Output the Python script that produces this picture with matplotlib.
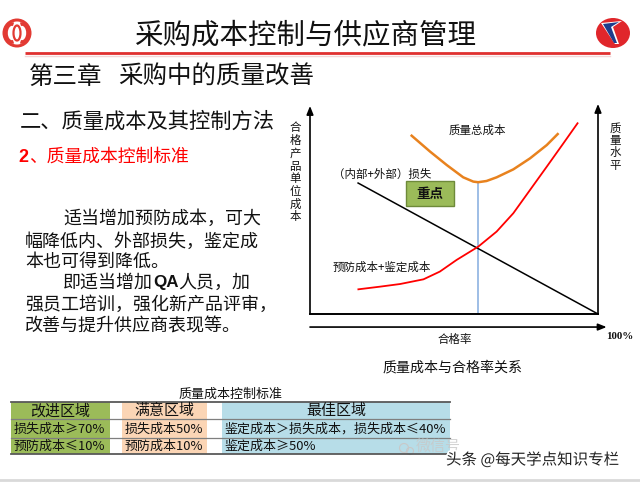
import matplotlib
matplotlib.use("Agg")
import matplotlib.pyplot as plt
from matplotlib.patches import Rectangle, Circle, Ellipse, Polygon, Arc
import matplotlib.patheffects as pe

plt.rcParams['font.family'] = ['Noto Sans CJK SC', 'DejaVu Sans']

# ---------------- data ----------------
title = "采购成本控制与供应商管理"
chapter_no = "第三章"
chapter = "采购中的质量改善"
section = "二、质量成本及其控制方法"
subsection = "质量成本控制标准"
para_lines = ["适当增加预防成本，可大", "幅降低内、外部损失，鉴定成", "本也可得到降低。",
              None, "强员工培训，强化新产品评审，", "改善与提升供应商表现等。"]

# chart curves (x = 合格率 scale 0-100, y = 单位成本 scale 0-100)
loss_x = [16.7, 100.0]
loss_y = [64.2, 0.0]
prev_x = [16.8, 24.3, 31.3, 39.4, 45.1, 50.9, 58.4, 64.8, 70.6, 76.4, 82.2, 88.0, 92.9]
prev_y = [12.1, 13.4, 14.7, 17.0, 20.8, 26.5, 33.0, 40.4, 49.4, 60.8, 72.2, 83.7, 93.5]
total_x = [35.3, 41.7, 47.5, 53.2, 56.7, 58.4, 61.3, 64.8, 70.6, 76.4, 82.2, 86.0]
total_y = [87.4, 79.6, 73.0, 67.0, 64.9, 64.6, 65.2, 67.0, 70.9, 76.3, 82.8, 88.2]
optimum_x = 58.4
optimum_y = 64.6

chart_caption = "质量成本与合格率关系"
table_title = "质量成本控制标准"
zones = ["改进区域", "满意区域", "最佳区域"]
loss_std = ["损失成本≥70%", "损失成本50%", "鉴定成本＞损失成本，损失成本≤40%"]
prev_std = ["预防成本≤10%", "预防成本10%", "鉴定成本≥50%"]
zone_colors = ["#9BBB59", "#FBD5B5", "#B7DDE8"]

# ---------------- figure ----------------
W, H = 640, 482
fig = plt.figure(figsize=(W / 100, H / 100), dpi=100)
fig.patch.set_facecolor("white")
ov = fig.add_axes([0, 0, 1, 1])
ov.set_xlim(0, W)
ov.set_ylim(H, 0)
ov.axis("off")

def pt(px):
    return px * 0.72

# header
ov.plot([25, 610], [53, 53], color="#E0302F", lw=2.0, solid_capstyle="butt")
ov.plot([25, 610], [56, 56], color="#F2D6D6", lw=1.0)
ov.text(306, 35, title, fontsize=pt(28.5), ha="center", va="center", color="#111111")
ov.text(29, 77, chapter_no, fontsize=pt(24.5), ha="left", va="center", color="#111111")
ov.text(118, 77, chapter, fontsize=pt(24.5), ha="left", va="center", color="#111111")

# left logo (red ring with swirls)
ov.add_patch(Circle((17, 33), 14.5, facecolor="#E23A33", edgecolor="none"))
ov.add_patch(Circle((17, 33), 11.5, facecolor="white", edgecolor="none"))
ov.add_patch(Arc((12, 33), 12, 18, theta1=80, theta2=280, color="#E23A33", lw=2.6))
ov.add_patch(Arc((22, 33), 12, 18, theta1=-100, theta2=100, color="#E23A33", lw=2.6))
ov.add_patch(Arc((17, 33), 7, 15, theta1=0, theta2=360, color="#E23A33", lw=1.6))

# right logo (red ellipse with blue swoosh)
ov.add_patch(Ellipse((613, 33), 34, 30, facecolor="#E0262B", edgecolor="none"))
ov.add_patch(Polygon([[601, 23], [622, 21], [613, 27], [619, 44], [615, 44]],
                     closed=True, facecolor="white", edgecolor="none"))
ov.add_patch(Polygon([[603, 24], [619, 22], [611, 27], [617, 43], [614, 43]],
                     closed=True, facecolor="#1F3C8C", edgecolor="none"))

# section texts
ov.text(20, 122, section, fontsize=pt(21.3), ha="left", va="center", color="#111111")
ov.text(18, 157, "2", fontsize=pt(18), ha="left", va="center", color="#FF0000",
        fontweight="bold", family=["Liberation Sans", "DejaVu Sans"])
ov.text(29, 157, "、" + subsection, fontsize=pt(17.8), ha="left", va="center", color="#FF0000")

para_y = [219, 242, 262, 283, 305, 326]
para_x = [63, 25, 25, 63, 25, 25]
for line, x, y in zip(para_lines, para_x, para_y):
    if line is not None:
        ov.text(x, y, line, fontsize=pt(18), ha="left", va="center", color="#111111")
ov.text(63, para_y[3], "即适当增加", fontsize=pt(18), ha="left", va="center", color="#111111")
ov.text(153, para_y[3], "QA", fontsize=pt(17), ha="left", va="center", color="#111111",
        fontweight="bold", family=["Liberation Sans", "DejaVu Sans"])
ov.text(178, para_y[3], "人员，加", fontsize=pt(18), ha="left", va="center", color="#111111")

# ---------------- chart ----------------
x0, x1, y0, y1 = 310, 598, 314, 110
ax = fig.add_axes([x0 / W, (H - y0) / H, (x1 - x0) / W, (y0 - y1) / H])
ax.set_xlim(0, 100)
ax.set_ylim(0, 100)
ax.axis("off")
ax.patch.set_alpha(0)

ax.plot([optimum_x, optimum_x], [0, optimum_y], color="#8DB3E2", lw=1.2, clip_on=False)
ax.plot(loss_x, loss_y, color="black", lw=1.1, clip_on=False)
ax.plot(prev_x, prev_y, color="#FF0000", lw=1.3, clip_on=False)
ax.plot(total_x, total_y, color="#E8821E", lw=1.8, clip_on=False)

arrow = dict(arrowstyle="-|>,head_length=0.5,head_width=0.2", color="black", lw=1.2,
             shrinkA=0, shrinkB=0)
ax.plot([0, 100], [0, 0], color="black", lw=1.4, clip_on=False)
ax.annotate("", xy=(0, 102), xytext=(0, 0), arrowprops=arrow, annotation_clip=False)
ax.annotate("", xy=(100, 103), xytext=(100, 0), arrowprops=arrow, annotation_clip=False)
ax.annotate("", xy=(103, -6.4), xytext=(0, -6.4), arrowprops=arrow, annotation_clip=False)

lbl = dict(fontsize=pt(11.5), color="#111111", va="center")
ax.text(58.0, 90.2, "质量总成本", ha="center", **lbl)
ax.text(25.2, 68.6, "（内部+外部）损失", ha="center", **lbl)
ax.text(24.9, 22.7, "预防成本+鉴定成本", ha="center", **lbl)
ax.text(50.2, -12.4, "合格率", ha="center", **lbl)
ax.text(107.6, -10.8, "100%", ha="center", fontsize=pt(11), color="#111111", va="center",
        family=["Liberation Serif", "DejaVu Serif"], fontweight="bold")

ax.add_patch(Rectangle((33.3, 52.9), 16.7, 12.3, facecolor="#9BBB59", edgecolor="#6E8A3A",
                       lw=1.0, clip_on=False))
ax.text(41.65, 59.05, "重点", ha="center", va="center", fontsize=pt(13.5),
        color="#111111", fontweight="bold")

# vertical axis titles (stacked characters)
ylab = "合格产品单位成本"
for i, ch in enumerate(ylab):
    ov.text(295, 128 + i * 12.7, ch, fontsize=pt(11.5), ha="center", va="center", color="#111111")
rlab = "质量水平"
for i, ch in enumerate(rlab):
    ov.text(615, 128 + i * 12.4, ch, fontsize=pt(11.5), ha="center", va="center", color="#111111")

ov.text(453, 367, chart_caption, fontsize=pt(14), ha="center", va="center", color="#111111")

# ---------------- table ----------------
ov.text(231, 394, table_title, fontsize=pt(13), ha="center", va="center", color="#111111")
cols = [(11, 110), (122, 207), (222, 450)]
rows = [(402, 419), (419, 438), (438, 454)]
for (cl, cr), color in zip(cols, zone_colors):
    ov.add_patch(Rectangle((cl, rows[0][0]), cr - cl, rows[-1][1] - rows[0][0],
                           facecolor=color, edgecolor="none"))
for (cl, cr), z, a, b in zip(cols, zones, loss_std, prev_std):
    ov.text((cl + cr) / 2, (rows[0][0] + rows[0][1]) / 2 + 0.5, z, fontsize=pt(15),
            ha="center", va="center", color="#111111")
    ov.text(cl + 3, (rows[1][0] + rows[1][1]) / 2 + 0.5, a, fontsize=pt(13),
            ha="left", va="center", color="#111111")
    ov.text(cl + 3, (rows[2][0] + rows[2][1]) / 2 + 0.5, b, fontsize=pt(13),
            ha="left", va="center", color="#111111")
ov.plot([11, 450], [402, 402], color="#595959", lw=1.3)
for yy in (419, 438):
    ov.plot([11, 450], [yy, yy], color="#7F7F7F", lw=0.9)
ov.plot([11, 450], [454, 454], color="#595959", lw=1.3)

# ---------------- watermark & footer ----------------
ov.add_patch(Circle((404, 448), 4.5, facecolor="none", edgecolor="#C8C8C8", lw=0.8))
ov.add_patch(Circle((410, 451), 3.5, facecolor="none", edgecolor="#C8C8C8", lw=0.8))
ov.text(416, 447, "微信号", fontsize=pt(15), ha="left", va="center",
        color="#C8C8C8", alpha=0.8)
ov.text(446, 460, "头条 @每天学点知识专栏", fontsize=pt(15.5), ha="left", va="center",
        color="#222222",
        path_effects=[pe.withStroke(linewidth=2.5, foreground="white")])
ov.plot([0, W], [480, 480], color="#D9D9D9", lw=2)

fig.savefig("out.png", dpi=100, facecolor="white")
